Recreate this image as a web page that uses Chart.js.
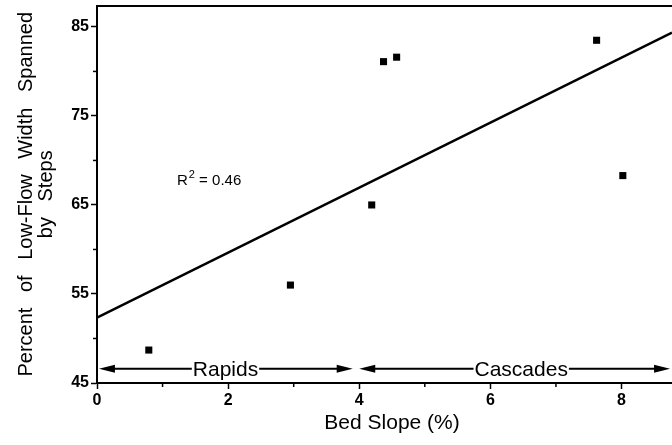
<!DOCTYPE html>
<html>
<head>
<meta charset="utf-8">
<script src="https://cdn.jsdelivr.net/npm/chart.js@4/dist/chart.umd.min.js"></script>
<style>
  html, body { margin: 0; padding: 0; background: #fff; }
  #wrap { width: 672px; height: 445px; position: relative; }
</style>
</head>
<body>
<div id="wrap"><canvas id="c" width="672" height="445"></canvas></div>
<script>
// ---- Data ----
const bedSlope = [0.79, 2.95, 4.19, 4.37, 4.57, 7.62, 8.02];
const pctSpanned = [48.7, 56.0, 65.0, 81.1, 81.6, 83.5, 68.3];
const fitX = [0, 8.77];
const fitY = [52.35, 84.35];
const xTickValues = [0, 2, 4, 6, 8];
const xMinorValues = [1, 3, 5, 7];
const yTickValues = [45, 55, 65, 75, 85];
const yMinorValues = [50, 60, 70, 80];
const xRange = [0, 8.77];
const yRange = [45, 87.35];
const xTitle = 'Bed Slope (%)';
const xTitleAt = 4.5;
const yTitle = ['Percent of Low-Flow Width Spanned', 'by Steps'];
const yTitleAt = 66.2;
const rSquaredLabel = { x: 1.22, y: 67.96, base: 'R', sup: '2', rest: ' = 0.46' };
const zones = [
  { label: 'Rapids', from: 0.03, to: 3.9, labelAt: 1.96, y: 46.6 },
  { label: 'Cascades', from: 4.0, to: 8.74, labelAt: 6.47, y: 46.6 }
];

const FONT = "'Liberation Sans', Arial, Helvetica, sans-serif";

const annotations = {
  id: 'annotations',
  afterDatasetsDraw(chart) {
    const ctx = chart.ctx;
    const xs = chart.scales.x, ys = chart.scales.y;
    const ca = chart.chartArea;
    ctx.save();
    // top frame line
    ctx.strokeStyle = '#000';
    ctx.lineWidth = 2;
    ctx.beginPath();
    ctx.moveTo(ca.left - 1, ca.top);
    ctx.lineTo(ca.right, ca.top);
    ctx.stroke();
    // minor ticks
    ctx.lineWidth = 1.5;
    xMinorValues.forEach(v => {
      const px = xs.getPixelForValue(v);
      ctx.beginPath();
      ctx.moveTo(px, ca.bottom);
      ctx.lineTo(px, ca.bottom + 4);
      ctx.stroke();
    });
    yMinorValues.forEach(v => {
      const py = ys.getPixelForValue(v);
      ctx.beginPath();
      ctx.moveTo(ca.left, py);
      ctx.lineTo(ca.left - 4, py);
      ctx.stroke();
    });
    // zone arrows
    ctx.font = '21px ' + FONT;
    ctx.textBaseline = 'middle';
    ctx.textAlign = 'center';
    zones.forEach(z => {
      const x1 = xs.getPixelForValue(z.from);
      const x2 = xs.getPixelForValue(z.to);
      const py = ys.getPixelForValue(z.y);
      const tx = xs.getPixelForValue(z.labelAt);
      const tw = ctx.measureText(z.label).width;
      ctx.lineWidth = 2;
      ctx.beginPath();
      ctx.moveTo(x1 + 6, py);
      ctx.lineTo(tx - tw / 2 - 1, py);
      ctx.moveTo(tx + tw / 2 + 1, py);
      ctx.lineTo(x2 - 6, py);
      ctx.stroke();
      // arrowheads
      ctx.fillStyle = '#000';
      ctx.beginPath();
      ctx.moveTo(x1, py);
      ctx.lineTo(x1 + 16, py - 4);
      ctx.lineTo(x1 + 16, py + 4);
      ctx.closePath();
      ctx.fill();
      ctx.beginPath();
      ctx.moveTo(x2, py);
      ctx.lineTo(x2 - 16, py - 4);
      ctx.lineTo(x2 - 16, py + 4);
      ctx.closePath();
      ctx.fill();
      ctx.fillText(z.label, tx, py + 1);
    });
    // R^2 label
    const rx = xs.getPixelForValue(rSquaredLabel.x);
    const ry = ys.getPixelForValue(rSquaredLabel.y);
    ctx.textAlign = 'left';
    ctx.font = '15px ' + FONT;
    ctx.fillText(rSquaredLabel.base, rx, ry + 2);
    let w = ctx.measureText(rSquaredLabel.base).width;
    ctx.font = '11px ' + FONT;
    ctx.fillText(rSquaredLabel.sup, rx + w + 1, ry - 4);
    w += ctx.measureText(rSquaredLabel.sup).width + 1;
    ctx.font = '15px ' + FONT;
    ctx.fillText(rSquaredLabel.rest, rx + w, ry + 2);
    // x title
    ctx.textAlign = 'center';
    ctx.font = '21px ' + FONT;
    ctx.fillText(xTitle, xs.getPixelForValue(xTitleAt), 423);
    // y title (rotated, two lines)
    ctx.save();
    ctx.translate(26, ys.getPixelForValue(yTitleAt));
    ctx.rotate(-Math.PI / 2);
    ctx.font = '20px ' + FONT;
    try { ctx.wordSpacing = '10px'; } catch (e) {}
    ctx.fillText(yTitle[0], 0, 0);
    ctx.fillText(yTitle[1], 0, 20);
    ctx.restore();
    ctx.restore();
  }
};

new Chart(document.getElementById('c'), {
  type: 'scatter',
  data: {
    datasets: [
      {
        label: 'Observed',
        data: bedSlope.map((x, i) => ({ x: x, y: pctSpanned[i] })),
        pointStyle: 'rect',
        pointRadius: 5,
        backgroundColor: '#000',
        borderColor: '#000',
        borderWidth: 0,
        showLine: false
      },
      {
        label: 'Fit',
        data: fitX.map((x, i) => ({ x: x, y: fitY[i] })),
        showLine: true,
        borderColor: '#000',
        borderWidth: 2.5,
        pointRadius: 0,
        fill: false
      }
    ]
  },
  plugins: [annotations],
  options: {
    responsive: false,
    animation: false,
    devicePixelRatio: 1,
    layout: { autoPadding: false, padding: { top: 6, right: 0, left: 0, bottom: 0 } },
    plugins: { legend: { display: false }, tooltip: { enabled: false } },
    scales: {
      x: {
        type: 'linear',
        min: xRange[0],
        max: xRange[1],
        afterBuildTicks: s => { s.ticks = xTickValues.map(v => ({ value: v })); },
        afterFit: s => { s.height = 62; s.paddingLeft = 0; s.paddingRight = 0; },
        border: { display: true, color: '#000', width: 2 },
        grid: { display: true, drawOnChartArea: false, drawTicks: true, tickLength: 6, color: '#000', tickWidth: 1.5 },
        ticks: { color: '#000', padding: 2, font: { family: FONT, size: 16, weight: 'bold' }, maxRotation: 0, autoSkip: false }
      },
      y: {
        type: 'linear',
        min: yRange[0],
        max: yRange[1],
        afterBuildTicks: s => { s.ticks = yTickValues.map(v => ({ value: v })); },
        afterFit: s => { s.width = 97; s.paddingTop = 0; s.paddingBottom = 0; },
        border: { display: true, color: '#000', width: 2 },
        grid: { display: true, drawOnChartArea: false, drawTicks: true, tickLength: 6, color: '#000', tickWidth: 1.5 },
        ticks: { color: '#000', padding: 2, font: { family: FONT, size: 16, weight: 'bold' }, autoSkip: false }
      }
    }
  }
});
</script>
</body>
</html>
